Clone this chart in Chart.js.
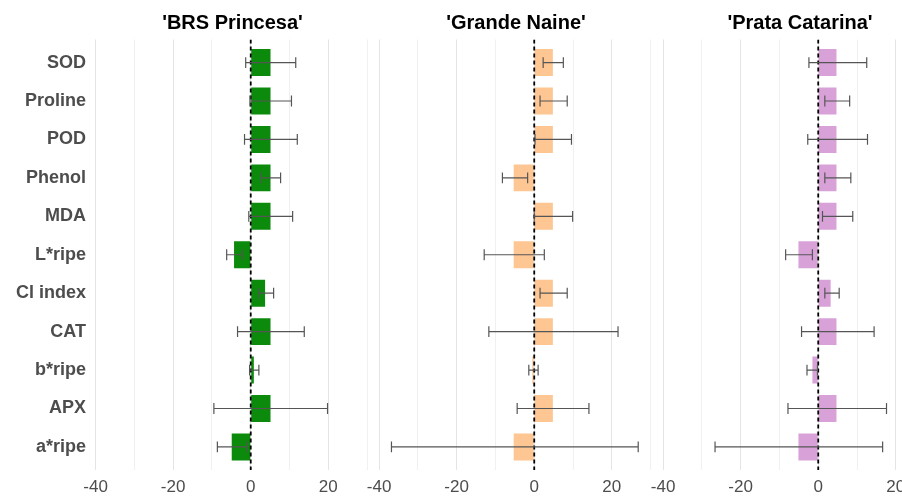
<!DOCTYPE html>
<html>
<head>
<meta charset="utf-8">
<script src="https://cdn.jsdelivr.net/npm/chart.js@4"></script>
<style>
  html, body { margin: 0; padding: 0; background: #ffffff; }
  body { width: 902px; height: 498px; position: relative; overflow: hidden; }
  canvas { position: absolute; top: 0; }
</style>
</head>
<body>
<canvas id="p1" width="374" height="498" style="left:0px"></canvas>
<canvas id="p2" width="298" height="498" style="left:360px"></canvas>
<canvas id="p3" width="298" height="498" style="left:644px"></canvas>
<script>
// Traits, top to bottom
const categories = ['SOD', 'Proline', 'POD', 'Phenol', 'MDA', 'L*ripe', 'Cl index', 'CAT', 'b*ripe', 'APX', 'a*ripe'];

// Cultivar titles
const panelTitles = ["'BRS Princesa'", "'Grande Naine'", "'Prata Catarina'"];

// 'BRS Princesa'
const brsValues = [5.1, 5.1, 5.1, 5.1, 5.1, -4.3, 3.7, 5.1, 0.8, 5.1, -4.9];
const brsLow    = [-1.3, -0.2, -1.6, 2.7, -0.5, -6.2, 2.0, -3.4, -0.3, -9.5, -8.6];
const brsHigh   = [11.6, 10.5, 12.0, 7.7, 10.8, -2.2, 5.9, 13.8, 2.1, 19.8, -1.0];

// 'Grande Naine'
const grandeValues = [4.8, 4.8, 4.8, -5.3, 4.8, -5.3, 4.8, 4.8, -0.5, 4.8, -5.3];
const grandeLow    = [2.3, 1.5, 0.2, -8.2, 0.0, -12.9, 1.5, -11.7, -1.4, -4.4, -36.8];
const grandeHigh   = [7.5, 8.5, 9.6, -1.7, 9.9, 2.6, 8.5, 21.6, 1.0, 14.1, 26.8];

// 'Prata Catarina'
const prataValues = [4.7, 4.7, 4.7, 4.7, 4.7, -5.1, 3.2, 4.7, -1.5, 4.7, -5.1];
const prataLow    = [-2.4, 1.7, -2.7, 1.7, 1.1, -8.4, 1.7, -4.3, -2.9, -7.8, -26.6];
const prataHigh   = [12.5, 8.1, 12.7, 8.4, 8.9, -1.5, 5.4, 14.4, -0.2, 17.6, 16.6];

// x-axis range and labelled ticks
const xMin = -40.4;
const xMax = 31;
const xTickLabels = [-40, -20, 0, 20];

const FONT = "'Liberation Sans', Arial, Helvetica, sans-serif";

// Error bars with end caps plus a dashed reference line at zero
const errorBarPlugin = {
  id: 'errorBars',
  afterDatasetsDraw(chart) {
    const { ctx, chartArea, scales } = chart;
    const xs = scales.x, ys = scales.y;
    const x0 = xs.getPixelForValue(0);
    ctx.save();
    ctx.beginPath();
    ctx.rect(chartArea.left, chartArea.top, chartArea.right - chartArea.left, chartArea.bottom - chartArea.top);
    ctx.clip();
    // zero line
    ctx.strokeStyle = '#000000';
    ctx.lineWidth = 1.8;
    ctx.setLineDash([4, 3]);
    ctx.beginPath();
    ctx.moveTo(x0, chartArea.top);
    ctx.lineTo(x0, chartArea.bottom);
    ctx.stroke();
    ctx.setLineDash([]);
    // error bars
    const eb = chart.options.plugins.errorBars;
    const pitch = Math.abs(ys.getPixelForValue(1) - ys.getPixelForValue(0));
    const half = pitch * 0.14;
    ctx.strokeStyle = '#555555';
    ctx.lineWidth = 1.2;
    eb.low.forEach((lo, i) => {
      const hi = eb.high[i];
      const y = ys.getPixelForValue(i);
      const xl = xs.getPixelForValue(lo);
      const xh = xs.getPixelForValue(hi);
      ctx.beginPath();
      ctx.moveTo(xl, y); ctx.lineTo(xh, y);
      ctx.moveTo(xl, y - half); ctx.lineTo(xl, y + half);
      ctx.moveTo(xh, y - half); ctx.lineTo(xh, y + half);
      ctx.stroke();
    });
    ctx.restore();
  }
};

function makePanel(id, title, values, low, high, color, opts) {
  const showLabels = opts.showLabels;
  return new Chart(document.getElementById(id), {
    type: 'bar',
    data: {
      labels: categories,
      datasets: [{
        data: values,
        backgroundColor: color,
        borderWidth: 0,
        categoryPercentage: 1,
        barPercentage: 0.7
      }]
    },
    plugins: [errorBarPlugin],
    options: {
      indexAxis: 'y',
      responsive: false,
      animation: false,
      devicePixelRatio: 1,
      layout: { padding: { left: opts.padLeft, right: opts.padRight, top: 0, bottom: 0 } },
      plugins: {
        legend: { display: false },
        tooltip: { enabled: false },
        title: {
          display: true,
          text: title,
          fullSize: false,
          color: '#000000',
          font: { family: FONT, size: 20, weight: 'bold' },
          padding: { top: 11, bottom: 4.5 }
        },
        errorBars: { low: low, high: high }
      },
      scales: {
        x: {
          type: 'linear',
          min: xMin,
          max: xMax,
          border: { display: false },
          grid: {
            drawTicks: false,
            lineWidth: 1,
            color: (c) => (xTickLabels.includes(c.tick.value) ? '#e4e4e4' : '#f0f0f0')
          },
          ticks: {
            stepSize: 10,
            includeBounds: false,
            autoSkip: false,
            maxRotation: 0,
            padding: 6.8,
            color: '#4d4d4d',
            font: { family: FONT, size: 17 },
            callback: (v) => (xTickLabels.includes(v) ? String(v) : '')
          },
          // tick labels may spill past the panel edge without shrinking it
          afterFit: (s) => {
            s.height = 28;
            s.paddingLeft = 0;
            s.paddingRight = 0;
          }
        },
        y: {
          type: 'category',
          border: { display: false },
          grid: { display: false, drawTicks: false },
          ticks: {
            display: showLabels,
            padding: 8,
            autoSkip: false,
            color: '#4d4d4d',
            font: { family: FONT, size: 18, weight: 'bold' }
          },
          // discrete axis expanded by 0.6 of a category at each end
          afterBuildTicks: (s) => {
            s._startValue = -0.6;
            s._valueRange = (categories.length - 1) + 1.2;
          },
          afterFit: (s) => {
            s.width = showLabels ? 94 : 0;
            s.paddingTop = 0;
            s.paddingBottom = 0;
          }
        }
      }
    }
  });
}

makePanel('p1', panelTitles[0], brsValues, brsLow, brsHigh, '#0b8a0b', { showLabels: true, padLeft: 0, padRight: 3 });
makePanel('p2', panelTitles[1], grandeValues, grandeLow, grandeHigh, '#fdc692', { showLabels: false, padLeft: 17.5, padRight: 3.5 });
makePanel('p3', panelTitles[2], prataValues, prataLow, prataHigh, '#d8a2d8', { showLabels: false, padLeft: 17.5, padRight: 3.5 });
</script>
</body>
</html>
